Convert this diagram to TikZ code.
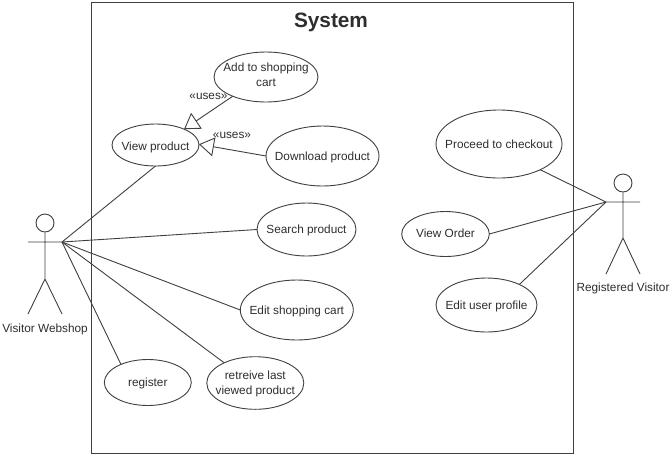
\documentclass[tikz,border=0pt]{standalone}
\usepackage{fontspec}
\setmainfont{Liberation Sans}
\usetikzlibrary{shapes.geometric,arrows.meta}
\definecolor{ink}{HTML}{404040}
\definecolor{txt}{HTML}{2E2E2E}
\newcommand\uctext[2][-4.4pt]{\smash{\makebox[0pt]{\raisebox{#1}{\begin{tabular}{@{}c@{}}#2\end{tabular}}}}}
\tikzset{
  usecase/.style={ellipse,draw=ink,line width=0.9pt,inner sep=0pt,outer sep=0pt,text=txt,font=\fontsize{11.8}{15}\selectfont},
  link/.style={draw=ink,line width=0.9pt},
  uses/.style={link,-{Triangle[open,length=15pt,width=19pt,line width=0.9pt]}},
  actorline/.style={draw=ink,line width=0.9pt},
  lbl/.style={inner sep=0pt,text=txt,font=\fontsize{11.8}{15}\selectfont},
}
\begin{document}
\begin{tikzpicture}[x=1pt,y=-1pt]
\useasboundingbox (0,0) rectangle (672,456);
\fill[white] (0,0) rectangle (672,456);
% system frame
\draw[draw=ink,line width=1pt] (91,2) rectangle (573,453);
\node[lbl,font=\fontsize{20.8}{24}\selectfont\bfseries] (sys) at (331,22) {System};
% use cases
\node[usecase,minimum width=104pt,minimum height=50pt] (add) at (266,77) {\uctext[-2.2pt]{Add to shopping\\cart}};
\node[usecase,minimum width=87pt,minimum height=42pt] (view) at (155.5,145) {\uctext[-5.6pt]{View product}};
\node[usecase,minimum width=113pt,minimum height=60pt] (down) at (322.5,156) {\uctext{Download product}};
\node[usecase,minimum width=99pt,minimum height=53pt] (search) at (306.5,229.5) {\uctext{Search product}};
\node[usecase,minimum width=113pt,minimum height=60pt] (cart) at (296.8,310) {\uctext{Edit shopping cart}};
\node[usecase,minimum width=97pt,minimum height=52.6pt] (last) at (255.3,383) {\uctext{retreive last\\viewed product}};
\node[usecase,minimum width=87pt,minimum height=46pt] (reg) at (147.8,382.5) {\uctext{register}};
\node[usecase,minimum width=126pt,minimum height=68pt] (proc) at (499,144) {\uctext{Proceed to checkout}};
\node[usecase,minimum width=87.6pt,minimum height=45pt] (order) at (445.5,234) {\uctext[-3.6pt]{View Order}};
\node[usecase,minimum width=101pt,minimum height=54pt] (prof) at (486.5,305) {\uctext{Edit user profile}};
% uses labels
\node[lbl] (u1) at (208.5,96) {«uses»};
\node[lbl] (u2) at (232,135) {«uses»};
% left actor
\node[circle,draw=ink,line width=0.9pt,minimum size=18pt,inner sep=0pt] (lhead) at (45,223) {};
\coordinate (lhand) at (62,242);
\coordinate (larm) at (28,242);
\coordinate (lhip) at (45,279);
\coordinate (lfa) at (28,314);
\coordinate (lfb) at (62,314);
\draw[actorline] (lhead) -- (lhip) (larm) -- (lhand) (lfa) -- (lhip) -- (lfb);
\node[lbl] (lname) at (45,329) {Visitor Webshop};
% right actor
\node[circle,draw=ink,line width=0.9pt,minimum size=18pt,inner sep=0pt] (rhead) at (623,183) {};
\coordinate (rhand) at (606,202);
\coordinate (rarm) at (640,202);
\coordinate (rhip) at (623,238);
\coordinate (rfa) at (606,274);
\coordinate (rfb) at (640,274);
\draw[actorline] (rhead) -- (rhip) (rhand) -- (rarm) (rfa) -- (rhip) -- (rfb);
\node[lbl] (rname) at (623,288) {Registered Visitor};
% associations
\draw[link] (lhand) -- (view.south);
\draw[link] (lhand) -- (search.west);
\draw[link] (lhand) -- (cart.west);
\draw[link] (lhand) -- (last.147.6);
\draw[link] (lhand) -- (reg.146.3);
\draw[link] (rhand) -- (proc.-32.1);
\draw[link] (rhand) -- (order.east);
\draw[link] (rhand) -- (prof.32.3);
% uses
\draw[uses] (add.210) -- (view.29);
\draw[uses] (down.west) -- (view.1);
\end{tikzpicture}
\end{document}
